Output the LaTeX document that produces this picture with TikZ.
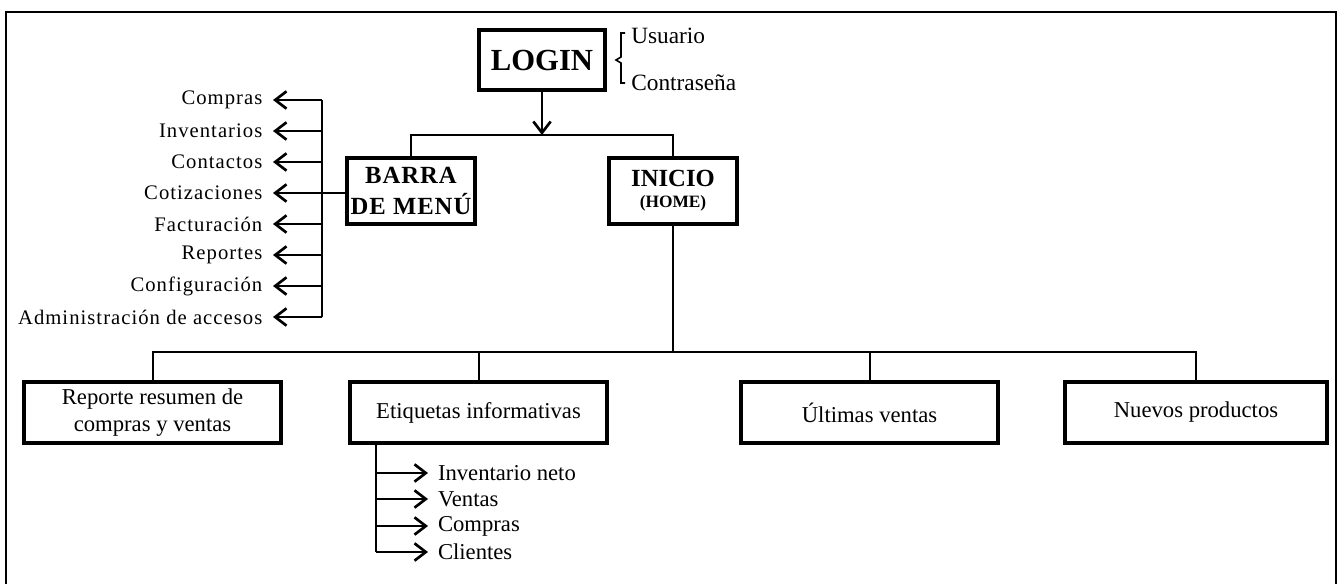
\documentclass[tikz,border=0pt]{standalone}
\usepackage{fontspec}
\setmainfont{Liberation Serif}
\usetikzlibrary{arrows.meta}
\begin{document}
\begin{tikzpicture}[x=0.75pt,y=-0.75pt,
  box/.style={draw, line width=3pt, inner sep=0pt, align=center},
  bigbox/.style={box, minimum width=192.75pt, minimum height=45.75pt, font=\fontsize{17}{20}\selectfont},
  conn/.style={line width=1.5pt},
  arr/.style={line width=1.7pt, -{Straight Barb[length=8.5pt,width=13pt,line width=2pt]}},
  lbl/.style={inner sep=0pt, outer xsep=8pt, font=\fontsize{15.5}{18}\selectfont\addfontfeature{LetterSpace=5}},
  sub/.style={inner sep=0pt, outer xsep=7.5pt, anchor=west, font=\fontsize{17}{20}\selectfont},
  side/.style={inner sep=0pt, anchor=west, font=\fontsize{17.5}{20}\selectfont}
]
\useasboundingbox (0,0) rectangle (1341,583);
% outer frame
\draw[line width=1.5pt] (6,600) -- (6,12) -- (1336,12) -- (1336,600);

% LOGIN
\node[box, line width=3.5pt, minimum width=94.5pt, minimum height=45pt, font=\fontsize{23}{26}\selectfont\bfseries] (login) at (542,60) {LOGIN};
\node[side] (usr) at (631,36) {Usuario};
\node[side] (pwd) at (631,83) {Contraseña};
\draw[line width=1.2pt] (625,33) -- (621,33) -- (621,57) -- (616,60) -- (621,63) -- (621,83) -- (625,83);

% second level
\node[box, minimum width=96pt, minimum height=49.5pt, font=\fontsize{18.5}{23}\selectfont\bfseries\addfontfeature{LetterSpace=4}] (barra) at (411,191) {BARRA\\DE MENÚ};
\node[box, minimum width=96pt, minimum height=49.5pt] (inicio) at (673,191) {{\fontsize{18.5}{22}\selectfont\bfseries INICIO}\\[4pt]{\fontsize{13}{15}\selectfont\bfseries (HOME)}};
\coordinate (tb) at (542,135);
\draw[arr] (login.south) -- (tb);
\draw[conn] (barra.north) -- (barra.north |- tb) -- (inicio.north |- tb) -- (inicio.north);

% menu items
\node[lbl, anchor=east] (m1) at (273,100) {Compras};
\node[lbl, anchor=east] (m2) at (273,131) {Inventarios};
\node[lbl, anchor=east] (m3) at (273,162) {Contactos};
\node[lbl, anchor=east] (m4) at (273,193) {Cotizaciones};
\node[lbl, anchor=east] (m5) at (273,224) {Facturación};
\node[lbl, anchor=east] (m6) at (273,255) {Reportes};
\node[lbl, anchor=east] (m7) at (273,286) {Configuración};
\node[lbl, anchor=east] (m8) at (273,317) {Administración de accesos};
\coordinate (s1) at (322,100);
\coordinate (s2) at (322,131);
\coordinate (s3) at (322,162);
\coordinate (s5) at (322,224);
\coordinate (s6) at (322,255);
\coordinate (s7) at (322,286);
\coordinate (s8) at (322,317);
\draw[conn] (s1) -- (s8);
\draw[arr] (s1) -- (m1.east);
\draw[arr] (s2) -- (m2.east);
\draw[arr] (s3) -- (m3.east);
\draw[arr] (barra.west |- m4) -- (m4.east);
\draw[arr] (s5) -- (m5.east);
\draw[arr] (s6) -- (m6.east);
\draw[arr] (s7) -- (m7.east);
\draw[arr] (s8) -- (m8.east);

% bottom level
\node[bigbox] (rep) at (152.5,412.5) {Reporte resumen de\\compras y ventas};
\node[bigbox] (eti) at (478.5,412.5) {Etiquetas informativas};
\node[bigbox] (ult) at (869.5,412.5) {Últimas ventas};
\node[bigbox, minimum width=196.5pt] (nue) at (1196,412.5) {Nuevos productos};
\coordinate (hb) at (673,352);
\draw[conn] (inicio.south) -- (hb);
\draw[conn] (rep.north) -- (rep.north |- hb) -- (nue.north |- hb) -- (nue.north);
\draw[conn] (eti.north) -- (eti.north |- hb);
\draw[conn] (ult.north) -- (ult.north |- hb);

% sub items
\node[sub] (i1) at (428,473) {Inventario neto};
\node[sub] (i2) at (428,499) {Ventas};
\node[sub] (i3) at (428,526) {Compras};
\node[sub] (i4) at (428,552) {Clientes};
\coordinate (e1) at (376,473);
\coordinate (e2) at (376,499);
\coordinate (e3) at (376,526);
\coordinate (e4) at (376,552);
\draw[conn] (eti.south -| e4) -- (e4);
\draw[arr] (e1) -- (i1.west);
\draw[arr] (e2) -- (i2.west);
\draw[arr] (e3) -- (i3.west);
\draw[arr] (e4) -- (i4.west);
\end{tikzpicture}
\end{document}
